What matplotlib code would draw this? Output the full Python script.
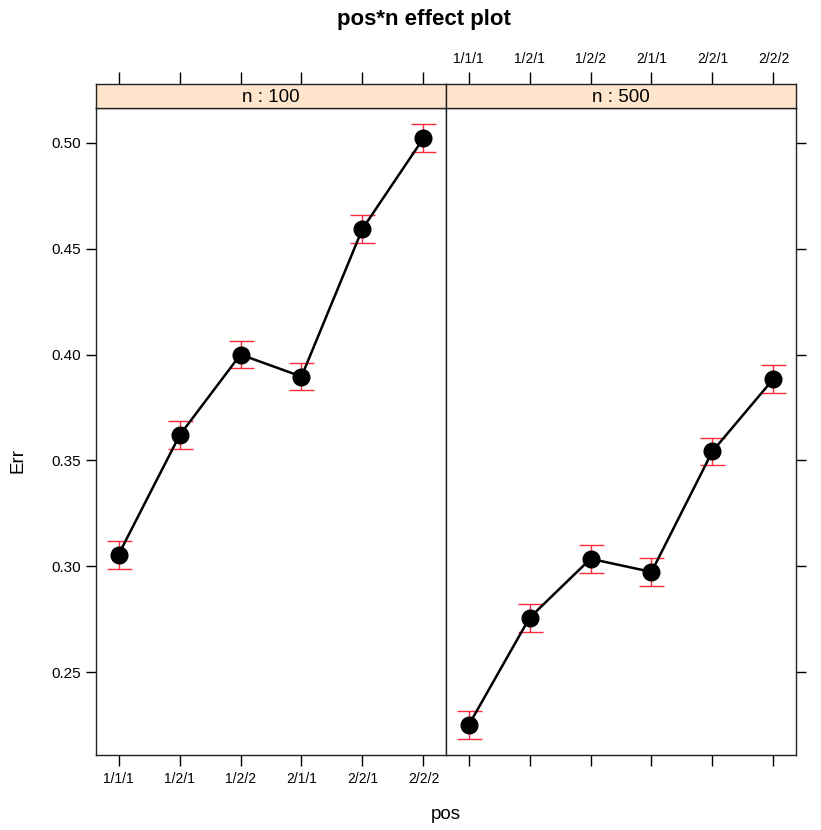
import matplotlib.pyplot as plt

plt.rcParams['font.family'] = ['Liberation Sans', 'DejaVu Sans']

pos_levels = ['1/1/1', '1/2/1', '1/2/2', '2/1/1', '2/2/1', '2/2/2']
panels = ['n : 100', 'n : 500']
err_100 = [0.3055, 0.3618, 0.4000, 0.3896, 0.4594, 0.5022]
err_500 = [0.2248, 0.2756, 0.3035, 0.2973, 0.3543, 0.3885]
half_ci_100 = [0.0066, 0.0066, 0.0065, 0.0065, 0.0065, 0.0066]
half_ci_500 = [0.0066, 0.0066, 0.0065, 0.0065, 0.0065, 0.0065]

W, H = 821, 830
fig = plt.figure(figsize=(W / 100, H / 100), dpi=100)

def fx(px):
    return px / W

def fy(py):
    return 1 - py / H

left0, pw = 96, 350
top, bottom, strip_top = 108, 755, 84
x = list(range(1, 7))
series = [(err_100, half_ci_100), (err_500, half_ci_500)]

for i, (vals, ci) in enumerate(series):
    l = left0 + i * pw
    ax = fig.add_axes([fx(l), fy(bottom), pw / W, (bottom - top) / H])
    ax.errorbar(x, vals, yerr=ci, fmt='none', ecolor='#ff2a3c', elinewidth=1,
                capsize=9, capthick=1, zorder=2)
    ax.plot(x, vals, color='black', lw=1.8, marker='o', ms=12, zorder=3)
    ax.set_xlim(0.63, 6.37)
    ax.set_ylim(0.2108, 0.5165)
    ax.set_yticks([0.25, 0.30, 0.35, 0.40, 0.45, 0.50])
    ax.set_xticks(x)
    ax.tick_params(direction='out', length=8, width=1, labelsize=10, pad=4)
    if i == 0:
        ax.set_xticklabels(pos_levels)
        ax.set_yticklabels(['0.25', '0.30', '0.35', '0.40', '0.45', '0.50'])
        ax.tick_params(axis='y', labelsize=11, pad=4, length=7)
    else:
        ax.set_xticklabels([])
        ax.yaxis.tick_right()
        ax.tick_params(axis='y', length=7, labelright=False)
    for s in ax.spines.values():
        s.set_linewidth(1)
        s.set_color('#222222')

    sax = fig.add_axes([fx(l), fy(top), pw / W, (top - strip_top) / H])
    sax.set_facecolor('#ffe5cc')
    sax.set_xlim(0.63, 6.37)
    sax.set_ylim(0, 1)
    sax.set_yticks([])
    sax.xaxis.tick_top()
    sax.set_xticks(x)
    sax.tick_params(axis='x', direction='out', length=9, width=1, labelsize=10, pad=4)
    if i == 1:
        sax.set_xticklabels(pos_levels)
    else:
        sax.set_xticklabels([])
    sax.text(0.5, 0.45, panels[i], transform=sax.transAxes, ha='center',
             va='center', fontsize=13.5)
    for s in sax.spines.values():
        s.set_linewidth(1)
        s.set_color('#222222')

fig.text(fx(424), fy(19), 'pos*n effect plot', ha='center', va='center',
         fontsize=16, fontweight='bold')
fig.text(fx(18), fy(460), 'Err', ha='center', va='center', rotation=90, fontsize=13.5)
fig.text(fx(446), fy(814), 'pos', ha='center', va='center', fontsize=13.5)

plt.savefig('out.png', dpi=100)
